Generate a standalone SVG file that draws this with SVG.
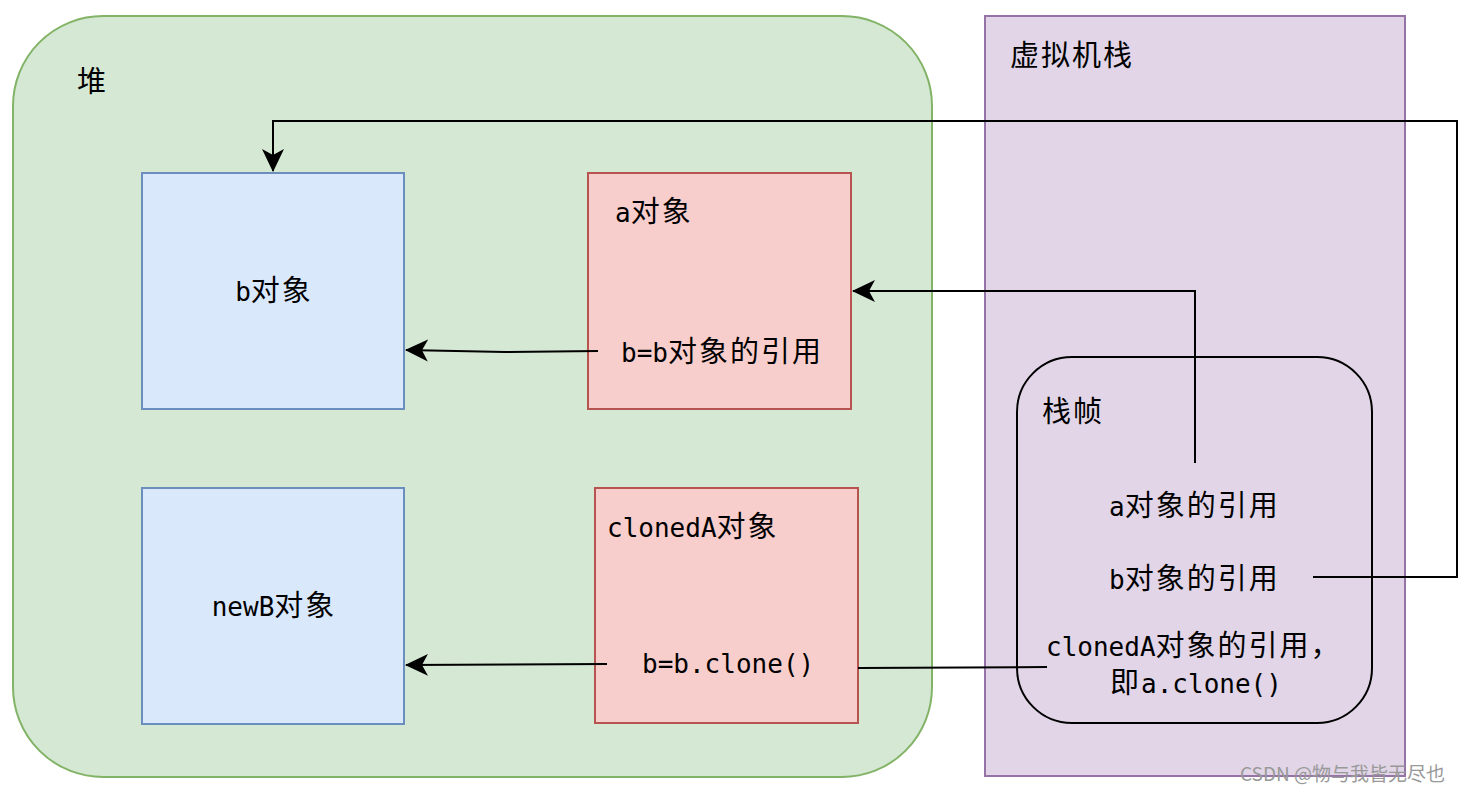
<svg xmlns="http://www.w3.org/2000/svg" width="1468" height="793" viewBox="0 0 1468 793">
<style>
.t{font-family:"DejaVu Sans Mono","Noto Sans CJK SC",monospace;font-size:26px;fill:#000}
.c{font-family:"Noto Sans CJK SC",sans-serif;font-size:29px;letter-spacing:2px}
.blue{fill:#dae8fc;stroke:#6c8ebf;stroke-width:2}
.red{fill:#f8cecc;stroke:#b85450;stroke-width:2}
.edge{fill:none;stroke:#000;stroke-width:2}
</style>
<defs>
<marker id="arr" viewBox="0 0 24 24" refX="22" refY="12" markerWidth="24" markerHeight="24" markerUnits="userSpaceOnUse" orient="auto">
<path d="M0,1 L23,12 L0,23 L6,12 Z" fill="#000"/>
</marker>
</defs>
<rect width="1468" height="793" fill="#fff"/>
<g id="heap">
<rect x="13" y="16" width="919" height="761" rx="90" ry="90" fill="#d5e8d4" stroke="#82b366" stroke-width="2"/>
<text class="t" x="77" y="92"><tspan class="c">堆</tspan></text>
</g>
<g id="vmstack">
<rect x="985" y="16" width="420" height="760" fill="#e1d5e7" stroke="#9673a6" stroke-width="2"/>
<text class="t" x="1010" y="66"><tspan class="c">虚拟机栈</tspan></text>
</g>
<g id="bobj">
<rect class="blue" x="142" y="173" width="262" height="236"/>
<text class="t" x="274" y="301" text-anchor="middle">b<tspan class="c">对象</tspan></text>
</g>
<g id="newbobj">
<rect class="blue" x="142" y="488" width="262" height="236"/>
<text class="t" x="274" y="616" text-anchor="middle">newB<tspan class="c">对象</tspan></text>
</g>
<g id="aobj">
<rect class="red" x="588" y="173" width="263" height="236"/>
<text class="t" x="615" y="222">a<tspan class="c">对象</tspan></text>
<text class="t" x="621" y="362">b=b<tspan class="c">对象的引用</tspan></text>
</g>
<g id="clonedAobj">
<rect class="red" x="595" y="488" width="263" height="235"/>
<text class="t" x="607" y="537">clonedA<tspan class="c">对象</tspan></text>
<text class="t" x="642" y="673">b=b.clone()</text>
</g>
<g id="frame">
<rect x="1017" y="357" width="355" height="366" rx="55" ry="55" fill="none" stroke="#000" stroke-width="2"/>
<text class="t" x="1042" y="422"><tspan class="c">栈帧</tspan></text>
<text class="t" x="1109" y="516">a<tspan class="c">对象的引用</tspan></text>
<text class="t" x="1109" y="589">b<tspan class="c">对象的引用</tspan></text>
<text class="t" x="1046" y="656">clonedA<tspan class="c">对象的引用，</tspan></text>
<text class="t" x="1110" y="693"><tspan class="c">即</tspan>a.clone()</text>
</g>
<g id="connectors">
<polyline class="edge" points="1195,463 1195,291 853,291" marker-end="url(#arr)"/>
<polyline class="edge" points="1313,577 1457,577 1457,121 273,121 273,171" marker-end="url(#arr)"/>
<polyline class="edge" points="598,351 505,352 406,350" marker-end="url(#arr)"/>
<polyline class="edge" points="1047,667 858,668"/>
<polyline class="edge" points="607,664 406,665" marker-end="url(#arr)"/>
</g>
<text x="1240" y="781" font-family="Noto Sans CJK SC,sans-serif" font-size="19" fill="#999">CSDN @物与我皆无尽也</text>
</svg>
